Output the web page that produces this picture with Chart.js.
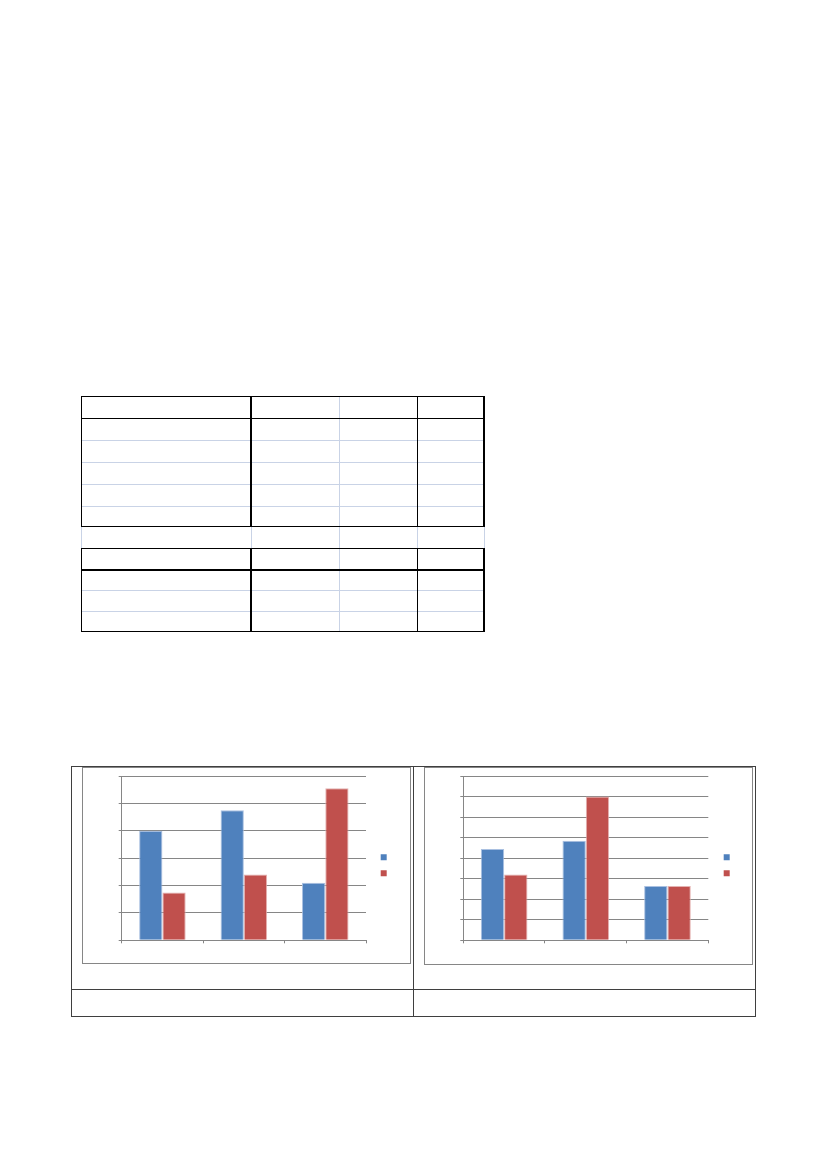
<!DOCTYPE html>
<html>
<head>
<meta charset="utf-8">
<script src="https://cdn.jsdelivr.net/npm/chart.js@4.4.1/dist/chart.umd.min.js"></script>
<style>
  html, body { margin: 0; padding: 0; background: #fff; }
  body { width: 827px; height: 1169px; position: relative; overflow: hidden; font-family: "Liberation Sans", Arial, sans-serif; }
  .ln { position: absolute; }
  .box { position: absolute; box-sizing: border-box; border: 1px solid #868686; background: #fff; }
  .box canvas { display: block; }
</style>
</head>
<body>
<div id="page"></div>
<div class="box" id="box1" style="left:82px;top:767px;width:329px;height:197px;"><canvas id="c1" width="327" height="195"></canvas></div>
<div class="box" id="box2" style="left:424px;top:767px;width:329px;height:198px;"><canvas id="c2" width="327" height="196"></canvas></div>
<script>
// ---- chart data ----
const categories1 = ['1', '2', '3'];
const seriesBlue1 = [4.0, 4.75, 2.1];
const seriesRed1  = [1.75, 2.4, 5.55];
const yTicks1 = { min: 0, max: 6, step: 1 };

const categories2 = ['1', '2', '3'];
const seriesBlue2 = [4.45, 4.85, 2.65];
const seriesRed2  = [3.2, 7.0, 2.65];
const yTicks2 = { min: 0, max: 8, step: 1 };

// ---- page table lines (empty table, drawn as rules) ----
const page = document.getElementById('page');
function hline(x1, x2, y, w, c) {
  const d = document.createElement('div'); d.className = 'ln';
  d.style.left = x1 + 'px'; d.style.width = (x2 - x1) + 'px';
  d.style.top = (y - w / 2) + 'px'; d.style.height = w + 'px'; d.style.background = c;
  page.appendChild(d);
}
function vline(x, y1, y2, w, c) {
  const d = document.createElement('div'); d.className = 'ln';
  d.style.top = y1 + 'px'; d.style.height = (y2 - y1) + 'px';
  d.style.left = (x - w / 2) + 'px'; d.style.width = w + 'px'; d.style.background = c;
  page.appendChild(d);
}
const LIGHT = '#c9d3e6', DARK = '#000';
const TL = 81.5, TR = 484;
// light rules first
[440.7, 462.7, 484.7, 506.7, 590.7, 611.3].forEach(y => hline(TL, TR, y, 1, LIGHT));
vline(339.7, 396.7, 631.7, 1, LIGHT);
[TL, 251, 417.7, TR].forEach(x => vline(x, 526.3, 548.3, 1, LIGHT));
// dark rules
[396.7, 418.7, 526.3, 548.3, 570, 631.7].forEach(y => hline(TL - 0.75, TR + 0.75, y, 1.5, DARK));
[TL, 251, 417.7, TR].forEach(x => { vline(x, 396, 527, 1.5, DARK); vline(x, 547.6, 632.4, 1.5, DARK); });

// outer frame around charts
const FR = '#3f3f3f';
hline(71, 755.5, 766, 1, FR);
hline(71, 755.5, 989.3, 1, FR);
hline(71, 755.5, 1016.5, 1, FR);
vline(71.5, 766, 1017, 1, FR);
vline(755, 766, 1017, 1, FR);
vline(413.3, 766, 1017, 1, FR);

// ---- charts ----
const GRID = '#868686';
const BLUE = '#4f81bd', RED = '#c0504d';

function makeChart(id, cats, blue, red, yt, pad, gapW) {
  return new Chart(document.getElementById(id), {
    type: 'bar',
    data: {
      labels: cats,
      datasets: [
        { label: 'Series 1', data: blue, backgroundColor: BLUE, borderColor: 'rgba(160,185,222,0.9)', borderWidth: 1, borderSkipped: 'bottom' },
        { label: 'Series 2', data: red, backgroundColor: RED, borderColor: 'rgba(225,170,168,0.9)', borderWidth: 1, borderSkipped: 'bottom' }
      ]
    },
    options: {
      responsive: false,
      animation: false,
      devicePixelRatio: 1,
      layout: { padding: pad },
      datasets: { bar: { barPercentage: 1, categoryPercentage: 2 / 3.5 } },
      scales: {
        x: {
          ticks: { display: false },
          grid: { display: true, drawOnChartArea: false, drawTicks: true, tickLength: 3, color: GRID, offset: true },
          border: { display: true, color: GRID, width: 1 }
        },
        y: {
          min: yt.min, max: yt.max,
          ticks: { display: false, stepSize: yt.step },
          grid: { color: GRID, lineWidth: 1, drawTicks: true, tickLength: 3 },
          border: { display: true, color: GRID, width: 1 }
        },
        yR: {
          type: 'linear', position: 'right', display: true,
          ticks: { display: false },
          grid: { display: false, drawTicks: false },
          border: { display: false },
          afterFit: s => { s.width = gapW; }
        }
      },
      plugins: {
        tooltip: { enabled: false },
        legend: {
          position: 'right',
          align: 'center',
          title: { display: true, text: ' ', font: { size: 5 }, padding: { top: 5, bottom: 0 } },
          labels: {
            boxWidth: 6, boxHeight: 6, padding: 8,
            font: { size: 8 },
            generateLabels: ch => Chart.defaults.plugins.legend.labels.generateLabels(ch).map(it => Object.assign(it, { text: '', lineWidth: 0 }))
          }
        }
      }
    }
  });
}
makeChart('c1', categories1, seriesBlue1, seriesRed1, yTicks1, { left: 35.7, top: 8, right: 9.3, bottom: 19.7 }, 6.7);
makeChart('c2', categories2, seriesBlue2, seriesRed2, yTicks2, { left: 35.3, top: 8, right: 8.3, bottom: 20.7 }, 7.4);
</script>
</body>
</html>
